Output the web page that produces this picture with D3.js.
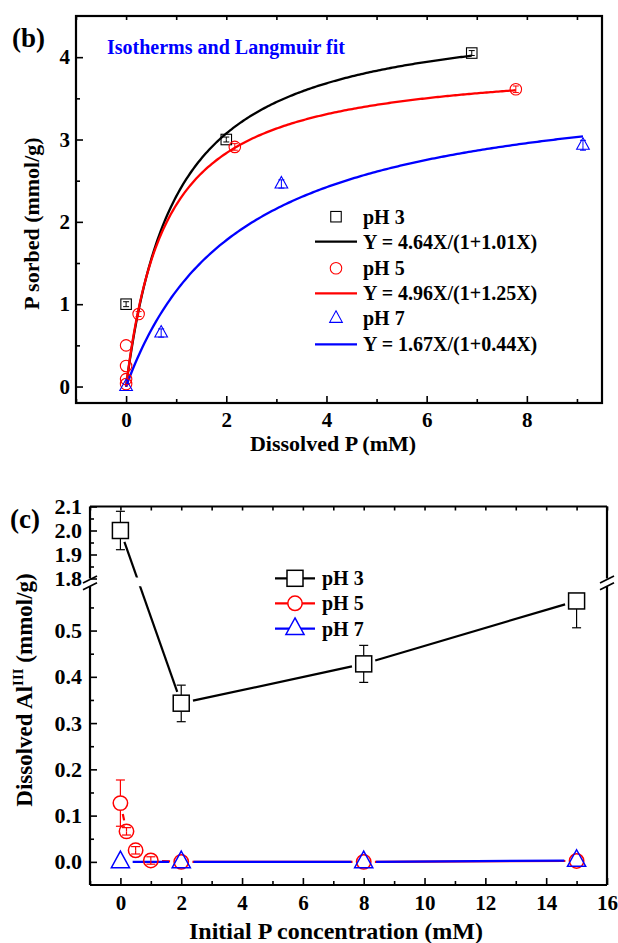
<!DOCTYPE html>
<html><head><meta charset="utf-8">
<script src="https://cdn.jsdelivr.net/npm/d3@7"></script>
<style>
body{margin:0;background:#fff}
svg{display:block}
text{font-family:"Liberation Serif","Times New Roman",serif;font-weight:bold}
</style>
</head><body>
<svg id="chart" width="618" height="943"></svg>
<script>
// ---------------- DATA ----------------
const seriesNames = ["pH 3", "pH 5", "pH 7"];
const seriesColors = ["#000000", "#ff0000", "#0000ff"];
const markerTypes = ["square", "circle", "triangle"];

// Panel (b): isotherms
const isoX_pH3 = [0, 2.0, 6.9];
const isoY_pH3 = [1.0, 3.0, 4.05];
const isoE_pH3 = [0.03, 0.03, 0.03];
const isoX_pH5 = [0, 0, 0, 0, 0.25, 2.17, 7.78];
const isoY_pH5 = [0.03, 0.09, 0.25, 0.5, 0.88, 2.91, 3.61];
const isoE_pH5 = [0, 0, 0, 0, 0.03, 0.04, 0.04];
const isoX_pH7 = [0, 0.7, 3.1, 9.12];
const isoY_pH7 = [0, 0.65, 2.46, 2.93];
const isoE_pH7 = [0, 0.05, 0.05, 0.06];

// Langmuir fits: Y = a X / (1 + b X)
const fitLabels = ["Y = 4.64X/(1+1.01X)", "Y = 4.96X/(1+1.25X)", "Y = 1.67X/(1+0.44X)"];
const fitA = [4.64, 4.96, 1.67];
const fitB = [1.01, 1.25, 0.44];
const fitXmax = [6.9, 7.78, 9.12];

const xTicksB = [0, 2, 4, 6, 8];
const xMinorB = [-1, 1, 3, 5, 7, 9];
const yTicksB = [0, 1, 2, 3, 4];
const yMinorB = [0.5, 1.5, 2.5, 3.5];

// Panel (c): dissolved Al
const alX_pH3 = [0, 2, 8, 15];
const alY_pH3 = [2.0, 0.343, 0.428, 0.564];
const alElo_pH3 = [0.08, 0.04, 0.04, 0.058];
const alEhi_pH3 = [0.08, 0.039, 0.04, 0];
const alX_pH5 = [0, 0.2, 0.5, 1, 2, 8, 15];
const alY_pH5 = [0.127, 0.066, 0.025, 0.003, 0.0, 0.0, 0.002];
const alElo_pH5 = [0.05, 0.008, 0.008, 0.008, 0, 0, 0];
const alEhi_pH5 = [0.05, 0.008, 0.008, 0.008, 0, 0, 0];
const alX_pH7 = [0, 2, 8, 15];
const alY_pH7 = [0.0, 0.0, 0.0, 0.003];
const alElo_pH7 = [0, 0, 0, 0];
const alEhi_pH7 = [0, 0, 0, 0];

const xTicksC = [0, 2, 4, 6, 8, 10, 12, 14, 16];
const xMinorC = [-1, 1, 3, 5, 7, 9, 11, 13, 15];
const yTicksCLow = [0.0, 0.1, 0.2, 0.3, 0.4, 0.5];
const yMinorCLow = [0.05, 0.15, 0.25, 0.35, 0.45, 0.55];
const yTicksCHigh = [1.8, 1.9, 2.0, 2.1];
const yMinorCHigh = [1.85, 1.95, 2.05];

// ---------------- DRAWING ----------------
const svg = d3.select("#chart");
svg.append("rect").attr("width", 618).attr("height", 943).attr("fill", "#fff");

function styleAxis(g, fs) {
  g.select(".domain").remove();
  g.selectAll(".tick line").attr("stroke", "#000").attr("stroke-width", 1.6);
  g.attr("font-size", fs).attr("font-family", "Liberation Serif").attr("font-weight", "bold");
  g.selectAll(".tick text").attr("fill", "#000");
  return g;
}

function drawMarker(g, type, cx, cy, s, color, fill, sw) {
  if (type === "square") {
    g.append("rect").attr("x", cx - s / 2).attr("y", cy - s / 2).attr("width", s).attr("height", s)
      .attr("fill", fill).attr("stroke", color).attr("stroke-width", sw);
  } else if (type === "circle") {
    g.append("circle").attr("cx", cx).attr("cy", cy).attr("r", s / 2)
      .attr("fill", fill).attr("stroke", color).attr("stroke-width", sw);
  } else {
    const w = s * 1.1, h = s;
    g.append("path").attr("d", `M${cx},${cy - 0.65 * h}L${cx + w / 2},${cy + 0.35 * h}L${cx - w / 2},${cy + 0.35 * h}Z`)
      .attr("fill", fill).attr("stroke", color).attr("stroke-width", sw);
  }
}

function drawErr(g, cx, cy, yHi, yLo, r, color, capW, sw) {
  if (cy - yHi > 0.5) {
    const from = (cy - yHi > r) ? cy - r : cy;
    g.append("line").attr("x1", cx).attr("x2", cx).attr("y1", from).attr("y2", yHi).attr("stroke", color).attr("stroke-width", sw);
    g.append("line").attr("x1", cx - capW / 2).attr("x2", cx + capW / 2).attr("y1", yHi).attr("y2", yHi).attr("stroke", color).attr("stroke-width", sw);
  }
  if (yLo - cy > 0.5) {
    const from = (yLo - cy > r) ? cy + r : cy;
    g.append("line").attr("x1", cx).attr("x2", cx).attr("y1", from).attr("y2", yLo).attr("stroke", color).attr("stroke-width", sw);
    g.append("line").attr("x1", cx - capW / 2).attr("x2", cx + capW / 2).attr("y1", yLo).attr("y2", yLo).attr("stroke", color).attr("stroke-width", sw);
  }
}

// ===== Panel (b) =====
const PB = { l: 76, r: 602, t: 16, b: 403 };
const xB = d3.scaleLinear().domain([-1, 9.5]).range([PB.l, PB.r]);
const yB = d3.scaleLinear().domain([-0.2, 4.5]).range([PB.b, PB.t]);
const gB = svg.append("g");

styleAxis(gB.append("g").attr("transform", `translate(0,${PB.b})`)
  .call(d3.axisBottom(xB).tickValues(xTicksB).tickSize(-7).tickPadding(9).tickFormat(d3.format("d"))), 21);
styleAxis(gB.append("g").attr("transform", `translate(0,${PB.b})`)
  .call(d3.axisBottom(xB).tickValues(xMinorB).tickSize(-4).tickFormat("")), 21);
styleAxis(gB.append("g").attr("transform", `translate(0,${PB.t})`)
  .call(d3.axisTop(xB).tickValues(xTicksB.concat(xMinorB)).tickSize(-4).tickFormat("")), 21);
styleAxis(gB.append("g").attr("transform", `translate(${PB.l},0)`)
  .call(d3.axisLeft(yB).tickValues(yTicksB).tickSize(-7).tickPadding(6).tickFormat(d3.format("d"))), 21);
styleAxis(gB.append("g").attr("transform", `translate(${PB.l},0)`)
  .call(d3.axisLeft(yB).tickValues(yMinorB).tickSize(-4).tickFormat("")), 21);

gB.append("rect").attr("x", PB.l).attr("y", PB.t).attr("width", PB.r - PB.l).attr("height", PB.b - PB.t)
  .attr("fill", "none").attr("stroke", "#000").attr("stroke-width", 2.2);

// fit curves
const lineB = d3.line().x(d => xB(d[0])).y(d => yB(d[1]));
for (let i = 0; i < 3; i++) {
  const n = 200;
  const pts = d3.range(n + 1).map(k => {
    const x = fitXmax[i] * k / n;
    return [x, fitA[i] * x / (1 + fitB[i] * x)];
  });
  gB.append("path").attr("d", lineB(pts)).attr("fill", "none")
    .attr("stroke", seriesColors[i]).attr("stroke-width", 2.3);
}

// isotherm points
const isoSets = [[isoX_pH3, isoY_pH3, isoE_pH3], [isoX_pH5, isoY_pH5, isoE_pH5], [isoX_pH7, isoY_pH7, isoE_pH7]];
const sizeB = [10.5, 11.5, 11.5];
isoSets.forEach((s, i) => {
  const [xs, ys, es] = s;
  xs.forEach((x, j) => {
    const cx = xB(x), cy = yB(ys[j]);
    if (es[j] > 0) drawErr(gB, cx, cy, yB(ys[j] + es[j]), yB(ys[j] - es[j]), sizeB[i] / 2, seriesColors[i], 6, 1);
    drawMarker(gB, markerTypes[i], cx, cy, sizeB[i], seriesColors[i], "none", 1.1);
  });
});

// title text
gB.append("text").attr("x", 107).attr("y", 54).attr("font-size", 20).attr("fill", "#0000ff")
  .text("Isotherms and Langmuir fit");
svg.append("text").attr("x", 12).attr("y", 47).attr("font-size", 27).attr("fill", "#000").text("(b)");

// axis titles
svg.append("text").attr("x", PB.l + (PB.r - PB.l) / 2 - 6).attr("y", 451).attr("font-size", 22)
  .attr("text-anchor", "middle").text("Dissolved P (mM)");
svg.append("text").attr("transform", `translate(39,${(PB.t + PB.b) / 2 + 14}) rotate(-90)`).attr("font-size", 22)
  .attr("text-anchor", "middle").text("P sorbed (mmol/g)");

// legend (b)
const legRowsB = [216.7, 241.7, 268.3, 293.3, 318.3, 344.3];
for (let i = 0; i < 3; i++) {
  const ys = legRowsB[2 * i], yl = legRowsB[2 * i + 1];
  drawMarker(gB, markerTypes[i], 336, ys, sizeB[i], seriesColors[i], "none", 1.1);
  gB.append("text").attr("x", 363).attr("y", ys + 7).attr("font-size", 20).text(seriesNames[i]);
  gB.append("line").attr("x1", 315).attr("x2", 357).attr("y1", yl).attr("y2", yl)
    .attr("stroke", seriesColors[i]).attr("stroke-width", 2.3);
  gB.append("text").attr("x", 363).attr("y", yl + 7).attr("font-size", 20).text(fitLabels[i]);
}

// ===== Panel (c) =====
const PC = { l: 90, r: 607, t: 506.5, b: 885 };
const breakTop = 578.5, breakBot = 584.3;
const xC = d3.scaleLinear().domain([-1, 16]).range([PC.l, PC.r]);
const yCLow = d3.scaleLinear().domain([-0.05, 0.6]).range([PC.b, breakBot]);
const yCHigh = d3.scaleLinear().domain([1.8, 2.1]).range([breakTop, PC.t]);
const yC = v => (v > 1.2 ? yCHigh(v) : yCLow(v));
const gC = svg.append("g");

styleAxis(gC.append("g").attr("transform", `translate(0,${PC.b})`)
  .call(d3.axisBottom(xC).tickValues(xTicksC).tickSize(-7).tickPadding(10).tickFormat(d3.format("d"))), 21);
styleAxis(gC.append("g").attr("transform", `translate(0,${PC.b})`)
  .call(d3.axisBottom(xC).tickValues(xMinorC).tickSize(-4).tickFormat("")), 21);
styleAxis(gC.append("g").attr("transform", `translate(0,${PC.t})`)
  .call(d3.axisTop(xC).tickValues(xTicksC.concat(xMinorC)).tickSize(-4).tickFormat("")), 21);
styleAxis(gC.append("g").attr("transform", `translate(${PC.l},0)`)
  .call(d3.axisLeft(yCLow).tickValues(yTicksCLow).tickSize(-7).tickPadding(8).tickFormat(d3.format(".1f"))), 22);
styleAxis(gC.append("g").attr("transform", `translate(${PC.l},0)`)
  .call(d3.axisLeft(yCLow).tickValues(yMinorCLow).tickSize(-4).tickFormat("")), 22);
styleAxis(gC.append("g").attr("transform", `translate(${PC.l},0)`)
  .call(d3.axisLeft(yCHigh).tickValues(yTicksCHigh).tickSize(-7).tickPadding(8).tickFormat(d3.format(".1f"))), 22);
styleAxis(gC.append("g").attr("transform", `translate(${PC.l},0)`)
  .call(d3.axisLeft(yCHigh).tickValues(yMinorCHigh).tickSize(-4).tickFormat("")), 22);

// frame with breaks
const frame = gC.append("g").attr("stroke", "#000").attr("stroke-width", 2.2);
frame.append("line").attr("x1", PC.l).attr("x2", PC.r).attr("y1", PC.t).attr("y2", PC.t);
frame.append("line").attr("x1", PC.l).attr("x2", PC.r).attr("y1", PC.b).attr("y2", PC.b);
[PC.l, PC.r].forEach(x => {
  frame.append("line").attr("x1", x).attr("x2", x).attr("y1", PC.t).attr("y2", breakTop);
  frame.append("line").attr("x1", x).attr("x2", x).attr("y1", breakBot + 2).attr("y2", PC.b);
  [breakTop + 1, breakBot + 2].forEach(yy => {
    frame.append("line").attr("x1", x - 7).attr("x2", x + 7).attr("y1", yy + 3.5).attr("y2", yy - 3.5)
      .attr("stroke-width", 1.8);
  });
});

// clip for lines crossing break
const defs = svg.append("defs");
const cp = defs.append("clipPath").attr("id", "brk");
cp.append("rect").attr("x", 0).attr("y", 0).attr("width", 618).attr("height", breakTop - 1);
cp.append("rect").attr("x", 0).attr("y", breakBot + 2).attr("width", 618).attr("height", 943);

const alSets = [
  [alX_pH3, alY_pH3, alElo_pH3, alEhi_pH3],
  [alX_pH5, alY_pH5, alElo_pH5, alEhi_pH5],
  [alX_pH7, alY_pH7, alElo_pH7, alEhi_pH7]
];
const sizeC = [16, 14.4, 16.5];
const lineG = gC.append("g").attr("clip-path", "url(#brk)");
const gap = 4;
alSets.forEach((s, i) => {
  const [xs, ys] = s;
  const r = sizeC[i] / 2;
  for (let j = 0; j < xs.length - 1; j++) {
    const x0 = xC(xs[j]), y0 = yC(ys[j]), x1 = xC(xs[j + 1]), y1 = yC(ys[j + 1]);
    const dx = x1 - x0, dy = y1 - y0, L = Math.hypot(dx, dy);
    if (L <= 2 * (r + gap)) continue;
    const ux = dx / L, uy = dy / L;
    lineG.append("line")
      .attr("x1", x0 + ux * (r + gap)).attr("y1", y0 + uy * (r + gap))
      .attr("x2", x1 - ux * (r + gap)).attr("y2", y1 - uy * (r + gap))
      .attr("stroke", seriesColors[i]).attr("stroke-width", 2.2);
  }
});
alSets.forEach((s, i) => {
  const [xs, ys, elo, ehi] = s;
  const r = sizeC[i] / 2;
  xs.forEach((x, j) => {
    const cx = xC(x), cy = yC(ys[j]);
    if (elo[j] > 0 || ehi[j] > 0)
      drawErr(gC, cx, cy, yC(ys[j] + ehi[j]), yC(ys[j] - elo[j]), r, seriesColors[i], 9, 1.2);
    const small = (elo[j] > 0 && (yC(ys[j] - elo[j]) - cy) < r);
    drawMarker(gC, markerTypes[i], cx, cy, sizeC[i], seriesColors[i], (small || i === 2) ? "none" : "#fff", 1.5);
  });
});

// legend (c)
const legRowsC = [578.3, 603.3, 628.7];
for (let i = 0; i < 3; i++) {
  const y = legRowsC[i];
  gC.append("line").attr("x1", 275).attr("x2", 315).attr("y1", y).attr("y2", y)
    .attr("stroke", seriesColors[i]).attr("stroke-width", 2.2);
  drawMarker(gC, markerTypes[i], 295, y, sizeC[i], seriesColors[i], "#fff", 1.5);
  gC.append("text").attr("x", 322).attr("y", y + 7).attr("font-size", 20).text(seriesNames[i]);
}

svg.append("text").attr("x", 10).attr("y", 528).attr("font-size", 27).text("(c)");

// axis titles (c)
svg.append("text").attr("x", 336).attr("y", 939).attr("font-size", 24)
  .attr("text-anchor", "middle").text("Initial P concentration (mM)");
const yt = svg.append("text").attr("transform", `translate(32,${690}) rotate(-90)`).attr("font-size", 23)
  .attr("text-anchor", "middle");
yt.append("tspan").text("Dissolved Al");
yt.append("tspan").attr("font-size", 15).attr("dy", -9).text("III");
yt.append("tspan").attr("dy", 9).text(" (mmol/g)");
</script>
</body></html>
